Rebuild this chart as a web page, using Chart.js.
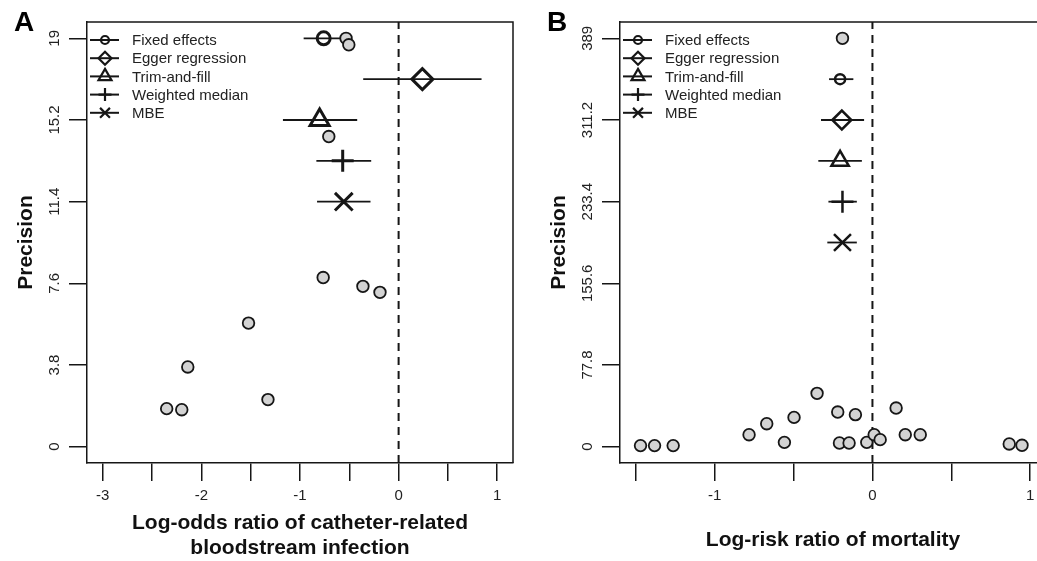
<!DOCTYPE html>
<html><head><meta charset="utf-8">
<script src="https://cdn.jsdelivr.net/npm/chart.js@4/dist/chart.umd.min.js"></script>
<style>
html,body{margin:0;padding:0;background:#fff;overflow:hidden;width:1037px;height:561px;}
#wa{position:absolute;left:0;top:0;width:533px;height:561px;}
#wb{position:absolute;left:533px;top:0;width:504px;height:561px;overflow:hidden;}
canvas{display:block;}
</style></head><body>
<div id="wa"><canvas id="ca" width="533" height="561"></canvas></div>
<div id="wb"><canvas id="cb" width="540" height="561"></canvas></div>
<script>
// ---------- shared ----------
const methodNames = ['Fixed effects', 'Egger regression', 'Trim-and-fill', 'Weighted median', 'MBE'];

// ---------- Panel A: catheter-related bloodstream infection ----------
const aStudyX = [-0.533, -0.505, -0.708, -0.765, -0.362, -0.189, -1.522, -2.138, -1.325, -2.352, -2.199];
const aStudyY = [19.0, 18.7, 14.43, 7.87, 7.46, 7.18, 5.75, 3.71, 2.19, 1.77, 1.72];
const aEstX  = [-0.760, 0.241, -0.801, -0.567, -0.556];
const aEstLo = [-0.963, -0.359, -1.173, -0.834, -0.827];
const aEstHi = [-0.556, 0.841, -0.420, -0.278, -0.285];
const aEstY  = [19, 17.1, 15.2, 13.3, 11.4];
const aXTicks = [-3, -2.5, -2, -1.5, -1, -0.5, 0, 0.5, 1];
const aXTickLabels = ['-3', '', '-2', '', '-1', '', '0', '', '1'];
const aYTicks = [0, 3.8, 7.6, 11.4, 15.2, 19];
const aYTickLabels = ['0', '3.8', '7.6', '11.4', '15.2', '19'];
const aXRange = [-3.16, 1.16];
const aYRange = [-0.76, 19.76];
const aXTitle = ['Log-odds ratio of catheter-related', 'bloodstream infection'];

// ---------- Panel B: mortality ----------
const bStudyX = [-1.47, -1.381, -1.263, -0.782, -0.67, -0.558, -0.497, -0.351, -0.22, -0.209, -0.148, -0.108, -0.036, 0.011, 0.049, 0.15, 0.208, 0.303, 0.867, 0.948, -0.19];
const bStudyY = [1, 1, 1, 11.4, 21.9, 4.1, 27.9, 50.8, 33, 3.5, 3.5, 30.5, 4.1, 11.4, 6.7, 36.8, 11.4, 11.4, 2.6, 1.3, 389];
const bEstX  = [-0.205, -0.194, -0.205, -0.190, -0.190];
const bEstLo = [-0.275, -0.326, -0.343, -0.279, -0.286];
const bEstHi = [-0.121, -0.053, -0.067, -0.099, -0.099];
const bEstY  = [350.1, 311.2, 272.3, 233.4, 194.5];
const bXTicks = [-1.5, -1, -0.5, 0, 0.5, 1];
const bXTickLabels = ['', '-1', '', '0', '', '1'];
const bYTicks = [0, 77.8, 155.6, 233.4, 311.2, 389];
const bYTickLabels = ['0', '77.8', '155.6', '233.4', '311.2', '389'];
const bXRange = [-1.6, 1.1];
const bYRange = [-15.56, 404.56];
const bXTitle = 'Log-risk ratio of mortality';

// ---------- styling ----------
const FONT = '"Liberation Sans", Arial, Helvetica, sans-serif';
const INK = '#161616';
const TXT = '#222222';
Chart.defaults.font.family = FONT;

const styles = ['circle', 'rectRot', 'triangle', 'cross', 'crossRot'];

function drawMarker(ctx, style, x, y, r) {
  ctx.beginPath();
  if (style === 'circle') {
    ctx.arc(x, y, r, 0, Math.PI * 2);
  } else if (style === 'rectRot') {
    ctx.moveTo(x - r, y); ctx.lineTo(x, y - r); ctx.lineTo(x + r, y); ctx.lineTo(x, y + r); ctx.closePath();
  } else if (style === 'triangle') {
    for (let k = 0; k < 3; k++) {
      const ang = k * 2 * Math.PI / 3;
      const px = x + Math.sin(ang) * r, py = y - Math.cos(ang) * r;
      if (k === 0) ctx.moveTo(px, py); else ctx.lineTo(px, py);
    }
    ctx.closePath();
  } else if (style === 'cross') {
    ctx.moveTo(x, y - r); ctx.lineTo(x, y + r); ctx.moveTo(x - r, y); ctx.lineTo(x + r, y);
  } else if (style === 'crossRot') {
    const d = r * Math.SQRT1_2;
    ctx.moveTo(x - d, y - d); ctx.lineTo(x + d, y + d); ctx.moveTo(x - d, y + d); ctx.lineTo(x + d, y - d);
  }
  ctx.stroke();
}

const panelDecor = {
  id: 'panelDecor',
  afterDraw(chart, args, opts) {
    const {ctx, chartArea: a, scales} = chart;
    ctx.save();
    // top and right sides of the box
    ctx.strokeStyle = INK; ctx.lineWidth = 1.5;
    ctx.beginPath(); ctx.moveTo(a.left, a.top); ctx.lineTo(a.right, a.top); ctx.lineTo(a.right, a.bottom); ctx.stroke();
    // rotated y tick labels
    ctx.fillStyle = TXT; ctx.font = '15px ' + FONT; ctx.textAlign = 'center'; ctx.textBaseline = 'middle';
    scales.y.ticks.forEach((t, i) => {
      const py = scales.y.getPixelForValue(t.value);
      ctx.save(); ctx.translate(a.left - 32, py); ctx.rotate(-Math.PI / 2);
      ctx.fillText(opts.yLabels[i], 0, 0); ctx.restore();
    });
    // panel letter
    ctx.fillStyle = '#000'; ctx.font = 'bold 28px ' + FONT;
    ctx.fillText(opts.letter, a.left - 63, a.top + 1);
    // legend
    const lx = a.left;
    const legR = [4, 6.5, 7.5, 6.5, 7];
    opts.names.forEach((name, i) => {
      const y = a.top + 18 + i * 18.2;
      ctx.strokeStyle = INK; ctx.lineWidth = 2;
      ctx.beginPath(); ctx.moveTo(lx + 3, y); ctx.lineTo(lx + 32, y); ctx.stroke();
      ctx.lineWidth = 2.2;
      drawMarker(ctx, styles[i], lx + 18, y, legR[i]);
      ctx.fillStyle = TXT; ctx.font = '15px ' + FONT; ctx.textAlign = 'left'; ctx.textBaseline = 'middle';
      ctx.fillText(name, lx + 45, y + 1);
    });
    ctx.restore();
  }
};

function buildChart(id, p) {
  const datasets = [];
  datasets.push({
    label: 'Studies', showLine: false,
    data: p.sx.map((x, i) => ({x, y: p.sy[i]})),
    pointRadius: 5.8, pointBorderWidth: 1.8,
    pointBackgroundColor: '#d3d3d3', pointBorderColor: INK
  });
  datasets.push({
    label: 'Estimates', showLine: false,
    data: p.ex.map((x, i) => ({x, y: p.ey[i]})),
    pointStyle: styles, pointRadius: p.markR, pointBorderWidth: p.markW,
    pointBackgroundColor: 'rgba(0,0,0,0)', pointBorderColor: INK
  });
  p.ex.forEach((x, i) => {
    datasets.push({
      label: methodNames[i] + ' CI', showLine: true, pointRadius: 0,
      data: [{x: p.lo[i], y: p.ey[i]}, {x: p.hi[i], y: p.ey[i]}],
      borderColor: INK, borderWidth: 1.8
    });
  });
  datasets.push({
    label: 'No effect', showLine: true, pointRadius: 0,
    data: [{x: 0, y: p.yr[0]}, {x: 0, y: p.yr[1]}],
    borderColor: INK, borderWidth: 2, borderDash: [8, 6]
  });
  return new Chart(document.getElementById(id), {
    type: 'scatter',
    data: {datasets},
    options: {
      responsive: false, animation: false, events: [],
      layout: {padding: {left: 0, top: 22, right: p.padR, bottom: 0}},
      plugins: {
        legend: {display: false}, tooltip: {enabled: false},
        panelDecor: {letter: p.letter, yLabels: p.yLabels, names: methodNames}
      },
      scales: {
        x: {
          type: 'linear', position: 'bottom', min: p.xr[0], max: p.xr[1],
          afterBuildTicks: s => { s.ticks = p.xTicks.map(v => ({value: v})); },
          afterFit: s => { s.height = 98; },
          ticks: {autoSkip: false, maxRotation: 0, minRotation: 0, padding: 6, color: TXT,
                  font: {size: 15}, callback: (v, i) => p.xLabels[i]},
          grid: {display: true, drawOnChartArea: false, drawTicks: true, tickLength: 18, color: INK, lineWidth: 1.5},
          border: {display: true, color: INK, width: 1.5},
          title: {display: true, text: p.xTitle, color: '#111',
                  font: {size: 21, weight: 'bold', lineHeight: 1.2}, padding: {top: 0, bottom: p.xTitlePad}}
        },
        y: {
          type: 'linear', position: 'left', min: p.yr[0], max: p.yr[1],
          afterBuildTicks: s => { s.ticks = p.yTicks.map(v => ({value: v})); },
          afterFit: s => { s.width = 87; },
          ticks: {display: false},
          grid: {display: true, drawOnChartArea: false, drawTicks: true, tickLength: 18, color: INK, lineWidth: 1.5},
          border: {display: true, color: INK, width: 1.5},
          title: {display: true, text: 'Precision', color: '#111',
                  font: {size: 21, weight: 'bold', lineHeight: 1.2}, padding: {top: 14, bottom: 0}}
        }
      }
    },
    plugins: [panelDecor]
  });
}

buildChart('ca', {
  sx: aStudyX, sy: aStudyY, ex: aEstX, lo: aEstLo, hi: aEstHi, ey: aEstY,
  xTicks: aXTicks, xLabels: aXTickLabels, yTicks: aYTicks, yLabels: aYTickLabels,
  xr: aXRange, yr: aYRange, xTitle: aXTitle, xTitlePad: 0, letter: 'A', padR: 20,
  markR: [6.5, 10.5, 11, 11, 12.5], markW: 3
});
buildChart('cb', {
  sx: bStudyX, sy: bStudyY, ex: bEstX, lo: bEstLo, hi: bEstHi, ey: bEstY,
  xTicks: bXTicks, xLabels: bXTickLabels, yTicks: bYTicks, yLabels: bYTickLabels,
  xr: bXRange, yr: bYRange, xTitle: bXTitle, xTitlePad: 8, letter: 'B', padR: 27,
  markR: [5, 9.5, 10, 11, 12], markW: 2.5
});
</script>
</body></html>
